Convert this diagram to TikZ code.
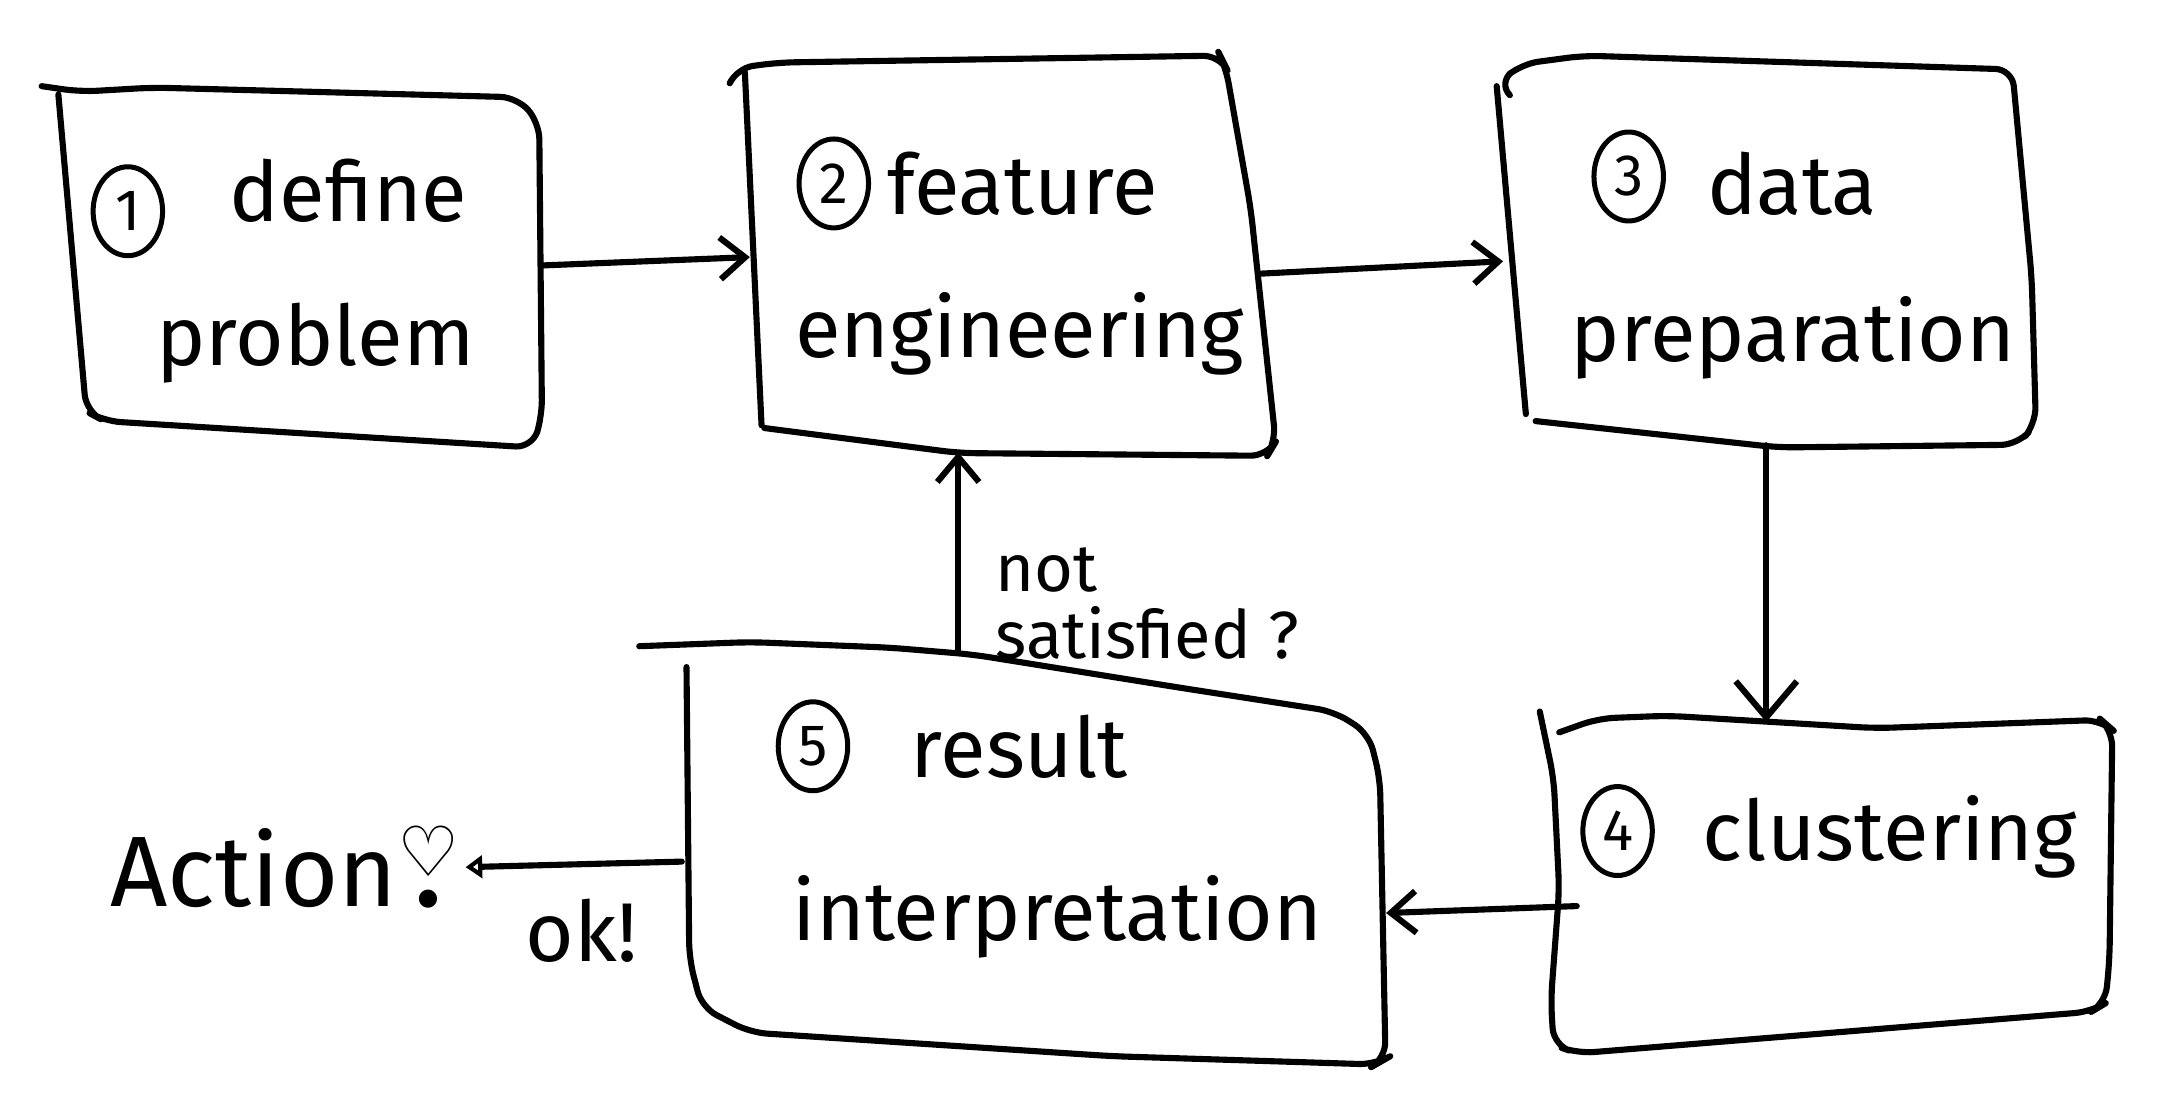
\documentclass[tikz,border=0pt]{standalone}
\usepackage{fontspec}
\setmainfont{Fira Sans}
\newfontfamily\symfont{DejaVu Sans}
\usetikzlibrary{arrows.meta,shapes.geometric,calc}

\begin{document}
\begin{tikzpicture}[x=0.5pt,y=-0.5pt,
  sketch/.style={line width=2.2pt, line cap=round, line join=round, rounded corners=6pt},
  boxhit/.style n args={2}{rectangle, draw=none, minimum width=#1, minimum height=#2, inner sep=0pt},
  lbl/.style={anchor=west, inner sep=0pt, font=\fontsize{30pt}{34pt}\selectfont},
  num/.style={ellipse, draw, line width=1.8pt, minimum width=25pt, minimum height=32pt, inner sep=0pt, font=\fontsize{21pt}{22pt}\selectfont},
  arr/.style={line width=2.2pt, line cap=round, -{Straight Barb[length=9pt,width=15pt,line width=2.2pt]}},
  bigarr/.style={line width=2.2pt, line cap=round, -{Straight Barb[length=13pt,width=22pt,line width=2.2pt]}},
  smallarr/.style={line width=2.2pt, line cap=round, -{Triangle[open,length=6pt,width=8pt,line width=2pt]}}]

\fill[white] (0,0) rectangle (1568,794);
\useasboundingbox (0,0) rectangle (1568,794);

% hit boxes for the five steps
\node[boxhit={175pt}{129pt}] (b1) at (215,191) {};
\node[boxhit={185pt}{140pt}] (b2) at (725,185) {};
\node[boxhit={191pt}{135pt}] (b3) at (1271,185) {};
\node[boxhit={200pt}{119pt}] (b4) at (1320,639) {};
\node[boxhit={252pt}{145pt}] (b5) at (745,615) {};

% hand-drawn outlines
\draw[sketch] (30,62) -- (58,66) -- (110,63) -- (372,70) -- (388,88) -- (390,300) -- (383,322) -- (75,303) -- (62,296) -- (42,68);
\draw[sketch] (526,58) -- (530,49) -- (560,45) -- (878,40) -- (882,48) -- (900,150) -- (918,318) -- (912,328) -- (690,326) -- (550,308);
\draw[sketch] (536,52) -- (548,306);
\draw[sketch] (1086,68) -- (1078,60) -- (1095,46) -- (1140,40) -- (1448,50) -- (1462,200) -- (1465,305) -- (1452,320) -- (1280,322) -- (1105,303);
\draw[sketch] (1077,62) -- (1098,298);
\draw[sketch] (1122,527) -- (1150,517) -- (1200,515) -- (1350,524) -- (1512,518) -- (1520,525) -- (1518,690) -- (1515,722) -- (1505,728) -- (1135,758) -- (1118,752) -- (1116,720) -- (1122,640) -- (1118,560) -- (1108,512);
\draw[sketch] (460,465) -- (540,462) -- (640,466) -- (700,471) -- (850,495) -- (960,512) -- (985,528) -- (993,560) -- (997,762) -- (990,766) -- (800,760) -- (540,743) -- (505,725) -- (496,690) -- (494,480);

% texts
\node[num] (n1) at (92,152) {1};
\node[lbl] (t1a) at (165,137) {define};
\node[lbl] (t1b) at (112,247) {problem};

\node[num] (n2) at (600,132) {2};
\node[lbl] (t2a) at (638,132) {feature};
\node[lbl] (t2b) at (572,240) {engineering};

\node[num] (n3) at (1172,127) {3};
\node[lbl] (t3a) at (1228,132) {data};
\node[lbl] (t3b) at (1130,243) {preparation};

\node[num] (n4) at (1164,598) {4};
\node[lbl] (t4a) at (1225,602) {clustering};

\node[num] (n5) at (585,537) {5};
\node[lbl] (t5a) at (655,537) {result};
\node[lbl] (t5b) at (570,660) {interpretation};

\node[anchor=east, inner sep=2pt, font=\fontsize{36pt}{40pt}\selectfont] (action) at (335,624)
  {Action\ooalign{\hfil\raisebox{11pt}{\symfont\fontsize{25pt}{25pt}\selectfont\char"2661}\hfil\cr\hfil\textbf{.}\hfil\cr}};
\node[lbl] (ok) at (378,670) {ok!};
\node[anchor=north west, align=left, inner sep=0pt, font=\fontsize{24pt}{24pt}\selectfont] (ns) at (716,394) {not\\satisfied ?};

% connectors
\coordinate (fb) at ($(b5.north west)!0.39!(b5.north east)$);
\draw[arr] (b1.east) -- (b2.west);
\draw[arr] ($(b2.east)+(-5,12)$) -- ($(b3.west)+(2,3)$);
\draw[bigarr] (b3.south) -- (b3.south |- b4.north);
\draw[arr] ($(b4.west)+(15,13)$) -- ($(b5.east)+(0,42)$);
\draw[arr] (fb) -- (fb |- b2.south);
\draw[smallarr] ($(b5.west)+(-2,5)$) -- (action.east);
\end{tikzpicture}
\end{document}
